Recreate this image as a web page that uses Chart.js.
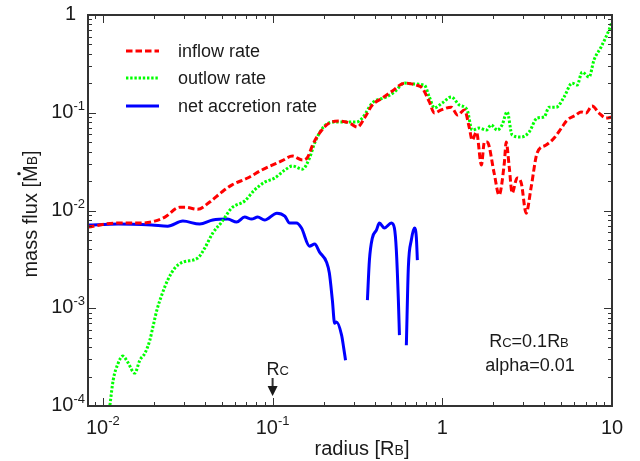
<!DOCTYPE html>
<html>
<head>
<meta charset="utf-8">
<script src="https://cdn.jsdelivr.net/npm/chart.js@4.4.0/dist/chart.umd.min.js"></script>
<style>
  html, body { margin: 0; padding: 0; background: #fff; }
</style>
</head>
<body>
<canvas id="graficoFluxo" width="640" height="461"></canvas>
<script>
// radius [R_B] and mass flux [Mdot_B]
const inflowR = [0.00817, 0.0118, 0.0165, 0.0202, 0.0232, 0.0284, 0.0304, 0.0362, 0.0426, 0.0501, 0.0574, 0.0713, 0.0862, 0.113, 0.131, 0.150, 0.161, 0.172, 0.189, 0.216, 0.248, 0.284, 0.316, 0.348, 0.387, 0.443, 0.508, 0.598, 0.703, 0.762, 0.839, 0.898, 0.986, 1.13, 1.23, 1.35, 1.44, 1.50, 1.59, 1.70, 1.77, 1.84, 2.02, 2.16, 2.32, 2.38, 2.48, 2.58, 2.76, 2.92, 3.12, 3.34, 3.62, 4.09, 4.56, 5.08, 5.44, 6.14, 6.57, 7.03, 7.63, 8.39, 9.22, 10];
const inflowRate = [0.00676, 0.00743, 0.00743, 0.00779, 0.00856, 0.0108, 0.0108, 0.0103, 0.0122, 0.0154, 0.0182, 0.0215, 0.0259, 0.0321, 0.0360, 0.0328, 0.0352, 0.0467, 0.0620, 0.0785, 0.0822, 0.0785, 0.0714, 0.0883, 0.120, 0.141, 0.167, 0.201, 0.192, 0.179, 0.129, 0.0993, 0.107, 0.114, 0.0947, 0.107, 0.0714, 0.0526, 0.0635, 0.0292, 0.0501, 0.0501, 0.0242, 0.0144, 0.0306, 0.0501, 0.0278, 0.0151, 0.0215, 0.0191, 0.0094, 0.0174, 0.0387, 0.0467, 0.0551, 0.0714, 0.0842, 0.0947, 0.102, 0.0993, 0.117, 0.0993, 0.0883, 0.0904];

const outflowR = [0.0110, 0.0115, 0.0123, 0.0131, 0.0140, 0.0154, 0.0165, 0.0177, 0.0189, 0.0197, 0.0208, 0.0222, 0.0241, 0.0265, 0.0296, 0.0362, 0.0398, 0.0444, 0.0501, 0.0574, 0.0684, 0.0783, 0.0897, 0.103, 0.118, 0.131, 0.150, 0.165, 0.177, 0.197, 0.225, 0.272, 0.312, 0.338, 0.387, 0.468, 0.522, 0.598, 0.667, 0.783, 0.839, 0.898, 1.0, 1.13, 1.26, 1.40, 1.50, 1.65, 1.82, 1.94, 2.11, 2.25, 2.41, 2.58, 2.92, 3.25, 3.62, 3.98, 4.26, 4.69, 5.22, 5.82, 6.23, 6.67, 7.33, 7.83, 8.62, 9.60, 10];
const outflowRate = [0.000102, 0.000184, 0.000274, 0.000324, 0.000281, 0.000217, 0.000294, 0.000347, 0.000471, 0.000641, 0.000957, 0.00136, 0.00194, 0.00257, 0.00296, 0.00326, 0.00412, 0.00587, 0.00761, 0.0106, 0.0125, 0.0162, 0.0195, 0.0215, 0.0259, 0.0285, 0.0265, 0.0344, 0.049, 0.0697, 0.0803, 0.0803, 0.0803, 0.0883, 0.126, 0.145, 0.163, 0.201, 0.197, 0.192, 0.145, 0.112, 0.126, 0.145, 0.120, 0.107, 0.0665, 0.0697, 0.0665, 0.0749, 0.0665, 0.0749, 0.102, 0.0591, 0.0564, 0.0635, 0.0883, 0.0904, 0.114, 0.114, 0.145, 0.201, 0.192, 0.261, 0.232, 0.346, 0.470, 0.702, 0.85];

// null = gap in the net accretion curve
const netR = [0.00817, 0.0123, 0.0194, 0.0241, 0.0296, 0.0372, 0.0444, 0.0543, 0.0614, 0.0684, 0.0752, 0.0817, 0.0897, 0.106, 0.118, 0.126, 0.138, 0.148, 0.165, 0.177, 0.189, 0.208, 0.216, 0.225, 0.232, 0.238, 0.255, 0.262, 0.269, 0.31, 0.362, 0.372, 0.387, 0.409, 0.426, 0.456, 0.501, 0.522, 0.536, 0.551, 0.559, 0.585, 0.614, 0.631, 0.657, 0.685, 0.703, 0.713];
const netRate = [0.00709, 0.00726, 0.00709, 0.00692, 0.00779, 0.00726, 0.00798, 0.00817, 0.00761, 0.00856, 0.00817, 0.00856, 0.00798, 0.0094, 0.00877, 0.00743, 0.00743, 0.00661, 0.00432, 0.00453, 0.00375, 0.00296, 0.00229, 0.00121, 0.000704, 0.000722, 0.000531, 0.0004, 0.000294, null, 0.00121, 0.00311, 0.00522, 0.0063, 0.00743, 0.00661, 0.00743, 0.00661, 0.00393, 0.00121, 0.000531, null, 0.000419, 0.00264, 0.00498, 0.00661, 0.00534, 0.00311];

const xTicks = [0.01, 0.1, 1, 10];
const xTickLabels = [['10', '-2'], ['10', '-1'], ['1', ''], ['10', '']];
const yTicks = [1, 0.1, 0.01, 0.001, 0.0001];
const yTickLabels = [['1', ''], ['10', '-1'], ['10', '-2'], ['10', '-3'], ['10', '-4']];

const FONT = "'Liberation Sans', Arial, Helvetica, sans-serif";
const INK = '#1a1a1a';

function pares(xs, ys) {
  return xs.map(function(r, i) { return { x: r, y: ys[i] }; });
}

// draws pieces [text, size, dy] one after another
function rich(ctx, parts, x, y, align) {
  let w = 0;
  parts.forEach(function(p) { ctx.font = p[1] + 'px ' + FONT; w += ctx.measureText(p[0]).width; });
  let cx = align === 'center' ? x - w / 2 : (align === 'right' ? x - w : x);
  const pos = [];
  parts.forEach(function(p) {
    ctx.font = p[1] + 'px ' + FONT;
    ctx.fillText(p[0], cx, y + p[2]);
    const pw = ctx.measureText(p[0]).width;
    pos.push([cx, pw]);
    cx += pw;
  });
  return pos;
}

const decor = {
  id: 'decor',
  afterDraw: function(chart) {
    const ctx = chart.ctx;
    const a = chart.chartArea;
    const xs = chart.scales.x, ys = chart.scales.y;
    ctx.save();
    ctx.strokeStyle = '#333';
    ctx.fillStyle = INK;
    ctx.textAlign = 'left';
    ctx.textBaseline = 'alphabetic';

    // inward ticks on all four sides
    ctx.lineWidth = 1;
    ctx.beginPath();
    for (let e = -3; e <= 1; e++) {
      for (let m = 1; m <= 9; m++) {
        const v = m * Math.pow(10, e);
        const len = m === 1 ? 8 : 4;
        if (v >= xs.min && v <= xs.max) {
          const px = Math.round(xs.getPixelForValue(v)) + 0.5;
          ctx.moveTo(px, a.bottom); ctx.lineTo(px, a.bottom - len);
          ctx.moveTo(px, a.top); ctx.lineTo(px, a.top + len);
        }
        const w = m * Math.pow(10, e - 2);
        if (w >= ys.min && w <= ys.max) {
          const py = Math.round(ys.getPixelForValue(w)) + 0.5;
          ctx.moveTo(a.left, py); ctx.lineTo(a.left + len, py);
          ctx.moveTo(a.right, py); ctx.lineTo(a.right - len, py);
        }
      }
    }
    ctx.stroke();

    // frame
    ctx.lineWidth = 2;
    ctx.strokeRect(a.left, a.top, a.right - a.left, a.bottom - a.top);

    // tick labels
    xTicks.forEach(function(v, i) {
      const px = xs.getPixelForValue(v);
      const l = xTickLabels[i];
      rich(ctx, [[l[0], 20, 0], [l[1], 13, -9]], px, 434, 'center');
    });
    yTicks.forEach(function(v, i) {
      const py = ys.getPixelForValue(v);
      const l = yTickLabels[i];
      rich(ctx, [[l[0], 20, 0], [l[1], 13, -8]], l[1] ? 85 : 76, py + 5, 'right');
    });

    // axis titles
    rich(ctx, [['radius [R', 20, 0], ['B', 14, 0], [']', 20, 0]], (a.left + a.right) / 2 + 12, 455, 'center');
    ctx.save();
    ctx.translate(30, 214);
    ctx.rotate(-Math.PI / 2);
    const pos = rich(ctx, [['mass flux [', 20, 0], ['M', 20, 0], ['B', 14, 0], [']', 20, 0]], 0, 7, 'center');
    ctx.beginPath();
    ctx.arc(pos[1][0] + pos[1][1] / 2, 7 - 18, 1.7, 0, 2 * Math.PI);
    ctx.fill();
    ctx.restore();

    // legend
    const rows = [51, 78, 106];
    chart.data.datasets.forEach(function(ds, i) {
      ctx.save();
      ctx.strokeStyle = ds.borderColor;
      ctx.lineWidth = ds.borderWidth;
      ctx.setLineDash(ds.borderDash || []);
      ctx.beginPath();
      ctx.moveTo(126, rows[i]); ctx.lineTo(159, rows[i]);
      ctx.stroke();
      ctx.restore();
      ctx.font = '18px ' + FONT;
      ctx.fillText(ds.label, 178, rows[i] + 5.5);
    });

    // annotations
    rich(ctx, [['R', 18, 0], ['C', 13, 0], ['=0.1R', 18, 0], ['B', 13, 0]], 529, 347, 'center');
    rich(ctx, [['alpha=0.01', 18, 0]], 530, 371, 'center');

    const rc = xs.getPixelForValue(0.1);
    rich(ctx, [['R', 18, 0], ['C', 13, 0]], rc - 6, 375, 'left');
    ctx.lineWidth = 2;
    ctx.beginPath();
    ctx.moveTo(rc, 378); ctx.lineTo(rc, 389);
    ctx.stroke();
    ctx.beginPath();
    ctx.moveTo(rc - 5, 386); ctx.lineTo(rc + 5, 386); ctx.lineTo(rc, 396);
    ctx.closePath();
    ctx.fill();

    ctx.restore();
  }
};

document.addEventListener('DOMContentLoaded', function() {
  const ctx = document.getElementById('graficoFluxo').getContext('2d');
  new Chart(ctx, {
    type: 'line',
    data: {
      datasets: [{
        label: 'inflow rate',
        data: pares(inflowR, inflowRate),
        borderColor: '#ff0000',
        borderDash: [6.5, 3],
        borderWidth: 3
      }, {
        label: 'outlow rate',
        data: pares(outflowR, outflowRate),
        borderColor: '#00ff00',
        borderDash: [2.4, 1.8],
        borderWidth: 3
      }, {
        label: 'net accretion rate',
        data: pares(netR, netRate),
        borderColor: '#0000ff',
        borderWidth: 3
      }]
    },
    options: {
      responsive: false,
      animation: false,
      layout: { padding: { left: 88, right: 28, top: 15, bottom: 55 } },
      elements: {
        point: { radius: 0 },
        line: { cubicInterpolationMode: 'monotone', fill: false }
      },
      scales: {
        x: { type: 'logarithmic', min: 0.00817, max: 10, display: false },
        y: { type: 'logarithmic', min: 0.0001, max: 1, display: false }
      },
      plugins: {
        legend: { display: false },
        tooltip: { enabled: false }
      }
    },
    plugins: [decor]
  });
});
</script>
</body>
</html>
